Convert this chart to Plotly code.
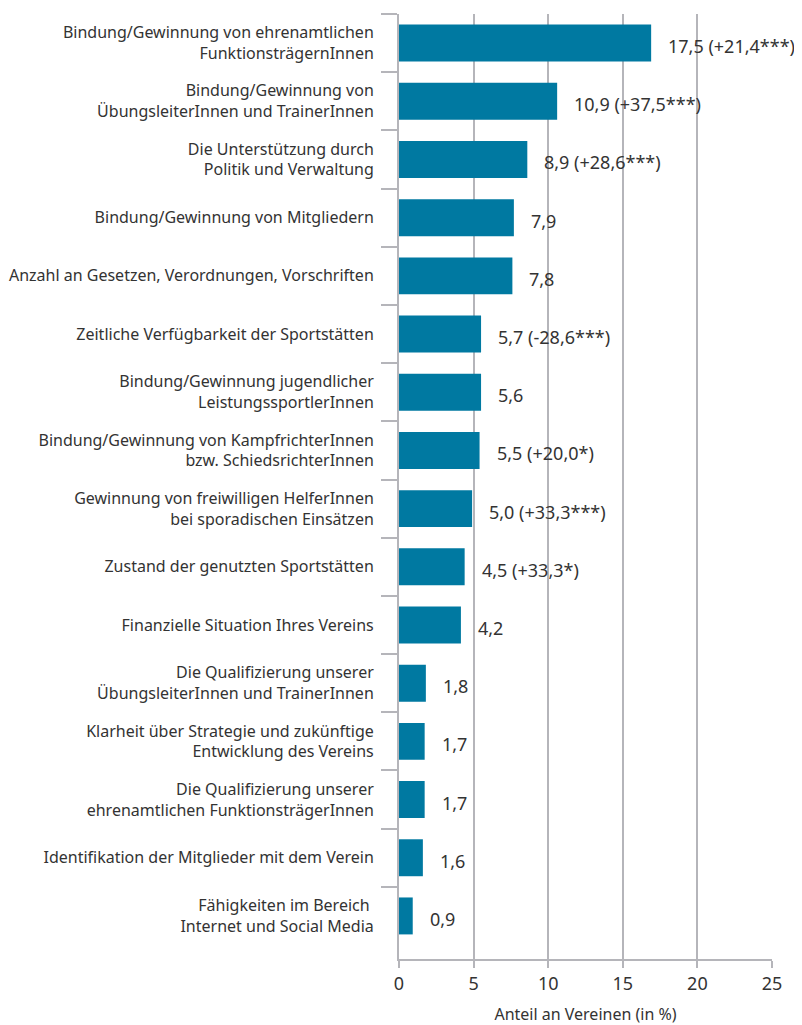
import plotly.graph_objects as go

# Kategorien (von oben nach unten)
categories = [
    "Bindung/Gewinnung von ehrenamtlichen<br>FunktionsträgernInnen",
    "Bindung/Gewinnung von<br>ÜbungsleiterInnen und TrainerInnen",
    "Die Unterstützung durch<br>Politik und Verwaltung",
    "Bindung/Gewinnung von Mitgliedern",
    "Anzahl an Gesetzen, Verordnungen, Vorschriften",
    "Zeitliche Verfügbarkeit der Sportstätten",
    "Bindung/Gewinnung jugendlicher<br>LeistungssportlerInnen",
    "Bindung/Gewinnung von KampfrichterInnen<br>bzw. SchiedsrichterInnen",
    "Gewinnung von freiwilligen HelferInnen<br>bei sporadischen Einsätzen",
    "Zustand der genutzten Sportstätten",
    "Finanzielle Situation Ihres Vereins",
    "Die Qualifizierung unserer<br>ÜbungsleiterInnen und TrainerInnen",
    "Klarheit über Strategie und zukünftige<br>Entwicklung des Vereins",
    "Die Qualifizierung unserer<br>ehrenamtlichen FunktionsträgerInnen",
    "Identifikation der Mitglieder mit dem Verein",
    "Fähigkeiten im Bereich <br>Internet und Social Media",
]

# Balkenlängen (Anteil in %)
bar_values = [16.9, 10.6, 8.6, 7.7, 7.6, 5.5, 5.5, 5.4, 4.9, 4.4, 4.15, 1.8, 1.72, 1.72, 1.6, 0.92]

# Beschriftungen an den Balken
value_labels = [
    "17,5 (+21,4***)", "10,9 (+37,5***)", "8,9 (+28,6***)", "7,9", "7,8",
    "5,7 (-28,6***)", "5,6", "5,5 (+20,0*)", "5,0 (+33,3***)", "4,5 (+33,3*)",
    "4,2", "1,8", "1,7", "1,7", "1,6", "0,9",
]

x_ticks = [0, 5, 10, 15, 20, 25]

pos = list(range(len(categories)))
bounds = [p - 0.5 for p in pos]

GRID = "#b5b5ba"
TXT = "#333333"
FONT = "Noto Sans"

fig = go.Figure()
fig.add_trace(go.Bar(
    x=bar_values, y=pos, orientation="h",
    marker=dict(color="#0079a1", line=dict(width=0)),
    width=0.635, hoverinfo="skip",
))

for v, p, t in zip(bar_values, pos, value_labels):
    fig.add_annotation(x=v, y=p, text=t, showarrow=False, xanchor="left",
                       xshift=15, yshift=-3, font=dict(size=18, color=TXT, family=FONT))

# die Seite hat 8px Rand (body margin), daher 794x1017
fig.update_layout(
    width=794, height=1017,
    margin=dict(l=391, r=30, t=6, b=66),
    plot_bgcolor="white", paper_bgcolor="white",
    showlegend=False,
    font=dict(family=FONT, size=16, color=TXT),
    xaxis=dict(
        range=[0, 25], tickvals=x_ticks, ticktext=[str(t) for t in x_ticks],
        showgrid=True, gridcolor=GRID, gridwidth=2,
        showline=True, linecolor=GRID, linewidth=2,
        ticks="outside", ticklen=7, tickwidth=2, tickcolor=GRID,
        zeroline=False, automargin=False,
        title=dict(text="Anteil an Vereinen (in %)", font=dict(size=16, color=TXT), standoff=18),
        tickfont=dict(size=18, color=TXT),
    ),
    yaxis=dict(
        range=[len(categories) - 0.5 + 0.24, -0.5],
        tickvals=pos, ticktext=categories,
        ticks="outside", ticklen=20, tickcolor="rgba(0,0,0,0)",
        minor=dict(tickvals=bounds, ticks="outside", ticklen=16, tickwidth=2, tickcolor=GRID, showgrid=False),
        showgrid=False, zeroline=False, automargin=False,
        showline=True, linecolor=GRID, linewidth=2,
        tickfont=dict(size=16, color=TXT),
    ),
)

fig.write_html("out.html")
